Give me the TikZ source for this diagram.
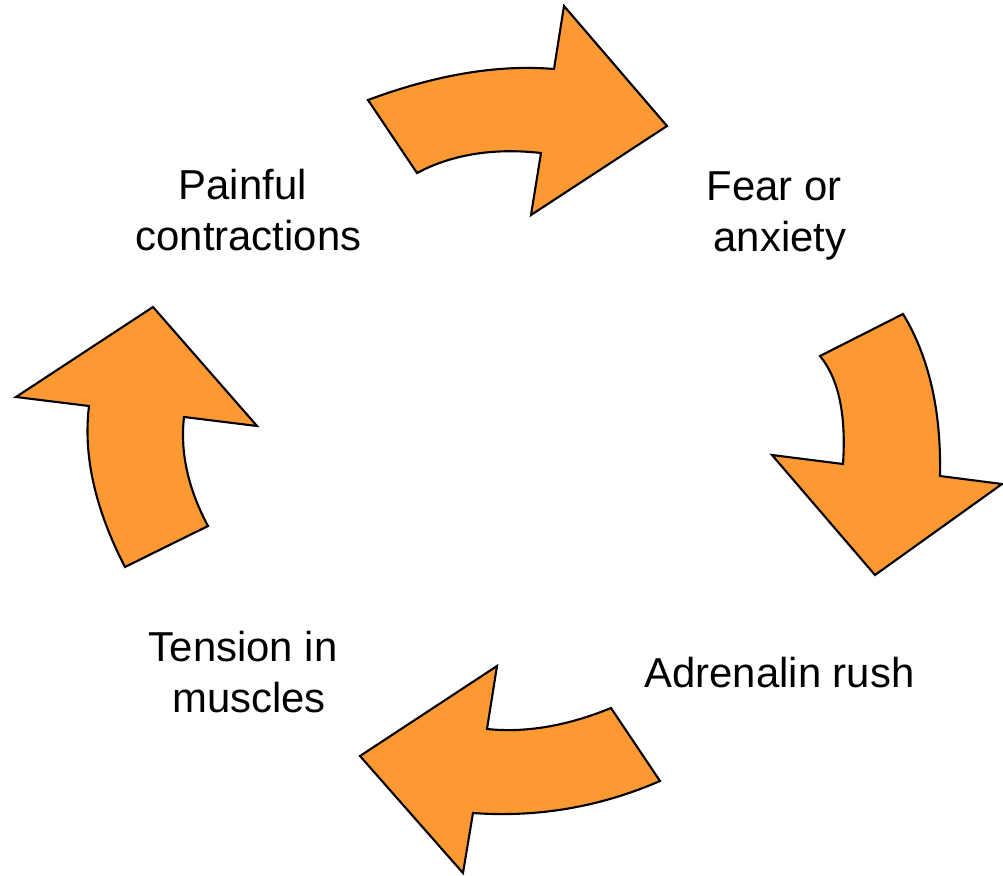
\documentclass[tikz,border=0pt]{standalone}
\usepackage{fontspec}
\setmainfont{Liberation Sans}
\definecolor{cycleorange}{RGB}{253,153,51}
\begin{document}
\begin{tikzpicture}[x=0.01cm,y=-0.01cm,
    blockarrow/.style={fill=cycleorange,draw=black,line width=0.6pt,line join=miter},
    steplabel/.style={align=center,inner sep=0pt,font=\fontsize{11.9}{14.5}\selectfont}]
    \useasboundingbox (0,0) rectangle (1003,876);

    % the four curved arrows of the cycle
    \draw[blockarrow] (368,100) .. controls (436,74.7) and (498,64.3) .. (554,69) -- (564,6) -- (667,126)
        -- (531,215) -- (541,153) .. controls (493.7,147.7) and (452.3,154.3) .. (417,173) -- cycle;
    \draw[blockarrow] (903,314) .. controls (929,356.7) and (941.3,410.7) .. (940,476) -- (1002,484) -- (875,575)
        -- (772,455) -- (843,464) .. controls (846.3,414.7) and (838.7,378.7) .. (820,356) -- cycle;
    \draw[blockarrow] (473,813) .. controls (537.7,817.7) and (600,807) .. (660,781) -- (611,708)
        .. controls (567,726) and (525.7,733) .. (487,729) -- (497,666) -- (360,756) -- (463,873) -- cycle;
    \draw[blockarrow] (89,406) .. controls (83,455.3) and (95,509) .. (125,567) -- (208,526)
        .. controls (188,488.7) and (180,452.3) .. (184,417) -- (257,426) -- (153,307) -- (16,397) -- cycle;

    % labels
    \node[steplabel] (PC) at (248.5,210) {\mbox{Painful\ }\\contractions};
    \node[steplabel] (FA) at (780,215.5) {\mbox{Fear or\ }\\anxiety};
    \node[steplabel,anchor=base] (AR) at (779.5,687) {Adrenalin rush};
    \node[steplabel] (TM) at (249,672) {\mbox{Tension in\ }\\muscles};
\end{tikzpicture}
\end{document}
